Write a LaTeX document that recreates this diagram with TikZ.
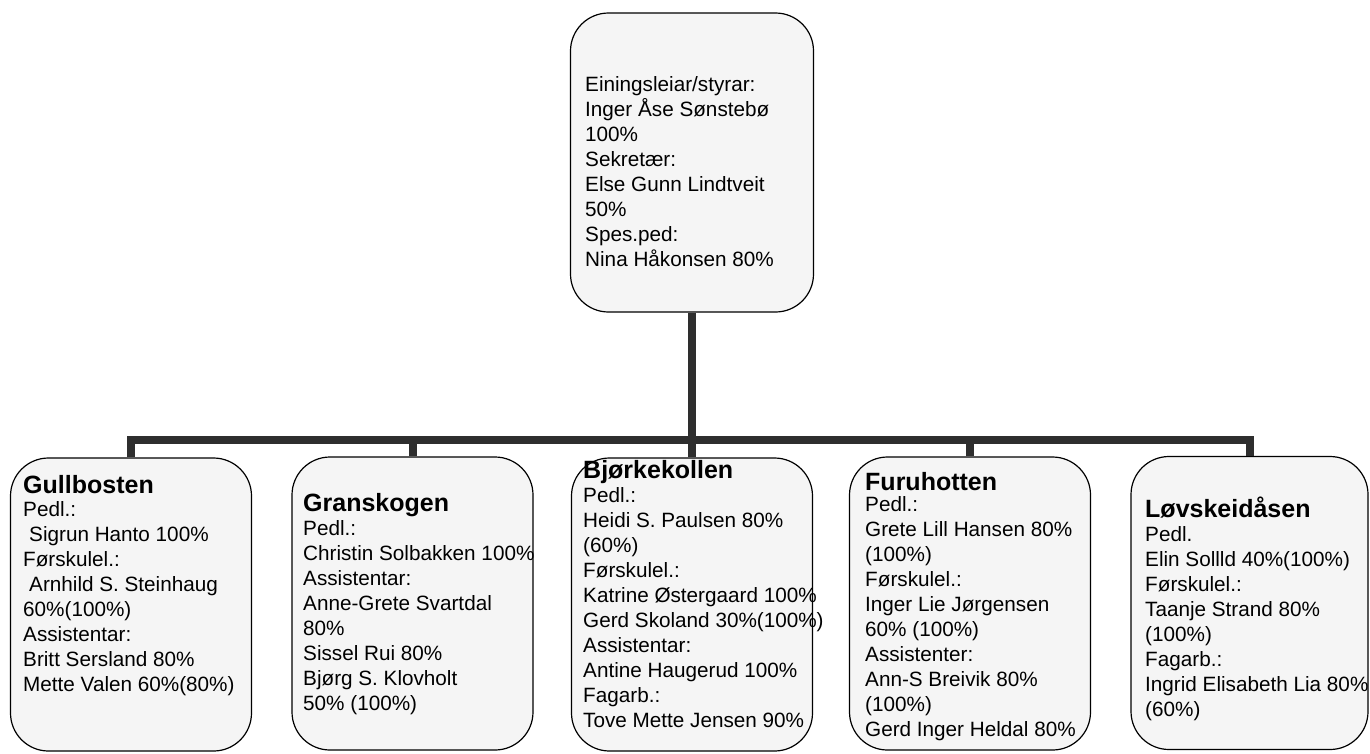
\documentclass[tikz,border=0pt]{standalone}
\usepackage{fontspec}
\setmainfont{Liberation Sans}
\tikzset{
    unitbox/.style={draw=black, line width=1.2pt, fill=black!4, rounded corners=38pt,
        minimum width=241pt, minimum height=293pt, inner sep=0pt},
    unithead/.style={anchor=north west, inner sep=0pt, font=\fontsize{25}{30}\selectfont\bfseries},
    unittext/.style={anchor=north west, inner sep=0pt, align=left, font=\fontsize{20.7}{25}\selectfont},
    branch/.style={line width=8pt, draw=black!82, line join=miter},
}
\begin{document}
\begin{tikzpicture}[x=1pt, y=-1pt]
    \newcommand\posGull{131}
    \newcommand\posGran{412.5}
    \newcommand\posBjork{692}
    \newcommand\posFuru{970}
    \newcommand\posLovs{1249.5}
    \newcommand\posRow{604.5}

    \useasboundingbox (0,0) rectangle (1370,753);

    \node[unitbox, minimum width=243pt, minimum height=299pt] (leiar) at (\posBjork, 162.5){};
    \node[unittext] (leiarText) at (585, 76){Einingsleiar/styrar:\\Inger Åse Sønstebø\\100\%\\Sekretær:\\Else Gunn Lindtveit\\50\%\\Spes.ped:\\Nina Håkonsen 80\%};

    \node[unitbox] (gull) at (\posGull, \posRow){};
    \node[unitbox] (gran) at (\posGran, 603.5){};
    \node[unitbox] (bjork) at (\posBjork, \posRow){};
    \node[unitbox] (furu) at (\posFuru, 603.5){};
    \node[unitbox, minimum width=237pt] (lovs) at (\posLovs, 603){};

    \coordinate (bus) at (\posBjork, 440);
    \draw[branch] (leiar.south) -- (bjork.north);
    \draw[branch] (gull.north) |- (bus) -| (lovs.north);
    \draw[branch] (gran.north) -- (gran.north |- bus);
    \draw[branch] (furu.north) -- (furu.north |- bus);

    \node[unithead] (gullHead) at (23, 475){Gullbosten};
    \node[unittext] (gullText) at (23, 501){Pedl.:\\\hspace*{6pt}Sigrun Hanto 100\%\\Førskulel.:\\\hspace*{6pt}Arnhild S. Steinhaug\\60\%(100\%)\\Assistentar:\\Britt Sersland 80\%\\Mette Valen 60\%(80\%)};

    \node[unithead] (granHead) at (303, 493){Granskogen};
    \node[unittext] (granText) at (303, 520){Pedl.:\\Christin Solbakken 100\%\\Assistentar:\\Anne-Grete Svartdal\\80\%\\Sissel Rui 80\%\\Bjørg S. Klovholt\\50\% (100\%)};

    \node[unithead] (bjorkHead) at (583, 460){Bjørkekollen};
    \node[unittext] (bjorkText) at (583, 487){Pedl.:\\Heidi S. Paulsen 80\%\\(60\%)\\Førskulel.:\\Katrine Østergaard 100\%\\Gerd Skoland 30\%(100\%)\\Assistentar:\\Antine Haugerud 100\%\\Fagarb.:\\Tove Mette Jensen 90\%};

    \node[unithead] (furuHead) at (865, 472){Furuhotten};
    \node[unittext] (furuText) at (865, 496){Pedl.:\\Grete Lill Hansen 80\%\\(100\%)\\Førskulel.:\\Inger Lie Jørgensen\\60\% (100\%)\\Assistenter:\\Ann-S Breivik 80\%\\(100\%)\\Gerd Inger Heldal 80\%};

    \node[unithead] (lovsHead) at (1145, 497){Løvskeidåsen};
    \node[unittext] (lovsText) at (1145, 526){Pedl.\\Elin Sollld 40\%(100\%)\\Førskulel.:\\Taanje Strand 80\%\\(100\%)\\Fagarb.:\\Ingrid Elisabeth Lia 80\%\\(60\%)};
\end{tikzpicture}
\end{document}
